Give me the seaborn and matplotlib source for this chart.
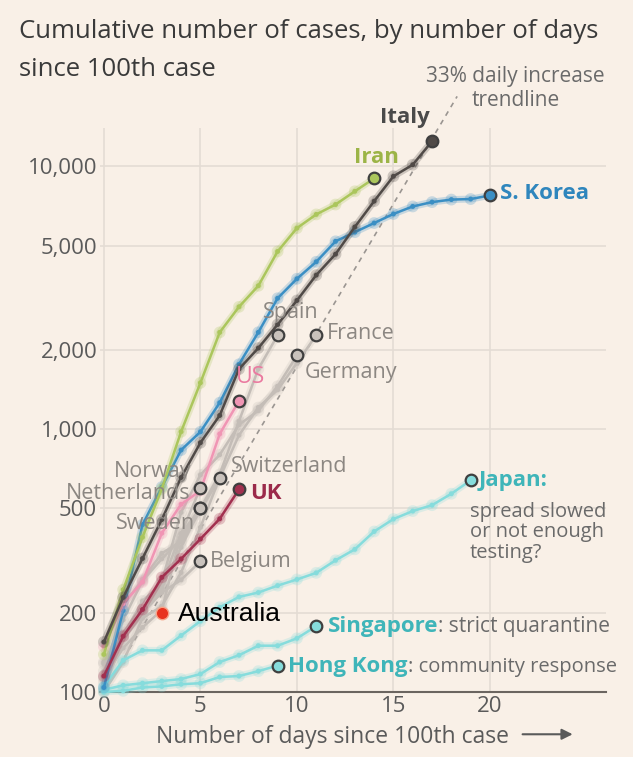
import numpy as np
import pandas as pd
import matplotlib
matplotlib.use('Agg')
import matplotlib.pyplot as plt
import matplotlib.patheffects as pe
import seaborn as sns

# cumulative cases, day 0 = first day with 100+ cases
italy = [155, 229, 322, 453, 655, 888, 1128, 1694, 2036, 2502, 3089, 3858, 4636, 5883, 7375, 9172, 10149, 12462]
iran = [139, 245, 388, 593, 978, 1501, 2336, 2922, 3513, 4747, 5823, 6566, 7161, 8042, 9000]
s_korea = [104, 204, 433, 602, 833, 977, 1261, 1766, 2337, 3150, 3736, 4335, 5186, 5621, 6088, 6593, 7041, 7314, 7478, 7513, 7755]
us = [149, 217, 262, 402, 518, 583, 959, 1281]
uk = [115, 163, 206, 273, 321, 382, 456, 590]
spain = [120, 165, 222, 259, 400, 500, 673, 1073, 1695, 2277]
france = [100, 130, 191, 212, 285, 423, 653, 949, 1209, 1412, 1784, 2281]
germany = [130, 159, 196, 262, 482, 670, 799, 1040, 1176, 1457, 1908]
switzerland = [114, 214, 268, 337, 374, 491, 652]
norway = [113, 147, 176, 205, 400, 598]
netherlands = [128, 188, 265, 321, 382, 503]
sweden = [101, 161, 203, 248, 355, 500]
belgium = [109, 169, 200, 239, 267, 314]
japan = [105, 132, 144, 144, 164, 186, 210, 230, 239, 254, 268, 284, 317, 349, 408, 455, 488, 514, 568, 639]
singapore = [102, 106, 108, 110, 112, 117, 130, 138, 150, 150, 160, 178]
hong_kong = [100, 101, 104, 105, 107, 108, 114, 115, 120, 126]
australia_day, australia_cases = 3, 200

trend_rate = 0.33
trend_days = [0, 18.3]

y_ticks = [100, 200, 500, 1000, 2000, 5000, 10000]
y_labels = ['100', '200', '500', '1,000', '2,000', '5,000', '10,000']
x_ticks = [0, 5, 10, 15, 20]

series = {
    'Spain': spain, 'France': france, 'Germany': germany, 'Switzerland': switzerland,
    'Norway': norway, 'Netherlands': netherlands, 'Sweden': sweden, 'Belgium': belgium,
    'Japan': japan, 'Singapore': singapore, 'Hong Kong': hong_kong,
    'S. Korea': s_korea, 'US': us, 'UK': uk, 'Iran': iran, 'Italy': italy,
}

GREY = '#c4bdb7'
TEAL = '#86dcdc'
colors = {
    'Spain': GREY, 'France': GREY, 'Germany': GREY, 'Switzerland': GREY,
    'Norway': GREY, 'Netherlands': GREY, 'Sweden': GREY, 'Belgium': GREY,
    'Japan': TEAL, 'Singapore': TEAL, 'Hong Kong': TEAL,
    'S. Korea': '#3b8fc4', 'US': '#f095b4', 'UK': '#a2304f',
    'Iran': '#abc65c', 'Italy': '#504a47',
}

rows = []
for name, vals in series.items():
    for d, v in enumerate(vals):
        rows.append({'country': name, 'day': d, 'cases': v})
df = pd.DataFrame(rows)

BG = '#f9f0e7'
sns.set_theme(style='white')
plt.rcParams['font.family'] = ['Open Sans', 'DejaVu Sans']

fig = plt.figure(figsize=(6.33, 7.57), dpi=100, facecolor=BG)
ax = fig.add_axes([0.158, 0.0859, 0.799, 0.745])
ax.set_facecolor(BG)

# trendline
td = np.array(trend_days)
ax.plot(td, 100 * (1 + trend_rate) ** td, ls=(0, (3, 3)), color='#9a9591', lw=1.2, clip_on=False, zorder=2)

sns.lineplot(data=df, x='day', y='cases', hue='country', hue_order=list(series.keys()),
             palette=colors, marker='o', markersize=3.5, markeredgewidth=0, lw=1.8,
             legend=False, ax=ax, zorder=3)
for line in ax.lines[1:]:
    c = line.get_color()
    line.set_path_effects([pe.Stroke(linewidth=5, foreground=c, alpha=0.25), pe.Normal()])
    line.set_clip_on(False)

# end-point circles
for name, vals in series.items():
    c = colors[name]
    face = '#c9c2bc' if c == GREY else c
    ax.scatter([len(vals) - 1], [vals[-1]], s=70, facecolor=face, edgecolor='#3f3f3f',
               linewidth=1.6, zorder=5, clip_on=False)

ax.scatter([australia_day], [australia_cases], s=80, color='#e8331f', zorder=6, edgecolor='#f6a48a', linewidth=1)

ax.set_yscale('log')
ax.set_ylim(100, 14000)
ax.set_xlim(-0.2, 26)
ax.set_yticks(y_ticks)
ax.set_yticklabels(y_labels)
ax.minorticks_off()
ax.set_xticks(x_ticks)
ax.tick_params(axis='y', length=0, pad=2, labelsize=16, labelcolor='#5a5a5a')
ax.tick_params(axis='x', length=0, pad=3, labelsize=16, labelcolor='#5a5a5a')
ax.grid(True, color='#e4dcd4', lw=1.2)
for s in ['top', 'right', 'left']:
    ax.spines[s].set_visible(False)
ax.spines['bottom'].set_color('#6b6560')
ax.spines['bottom'].set_linewidth(1.5)
ax.set_xlabel('Number of days since 100th case', fontsize=16.5, color='#5a5a5a')
ax.xaxis.set_label_coords(0.46, -0.058)
ax.set_ylabel('')
ax.annotate('', xy=(0.94, -0.075), xytext=(0.83, -0.075), xycoords='axes fraction',
            arrowprops=dict(arrowstyle='-|>', color='#5a5a5a', lw=1.5, mutation_scale=16))

# title
fig.text(0.03, 0.958, 'Cumulative number of cases, by number of days', fontsize=18.5, color='#3a3a3a', va='center')
fig.text(0.03, 0.908, 'since 100th case', fontsize=18.5, color='#3a3a3a', va='center')
fig.text(0.955, 0.899, '33% daily increase', fontsize=15, color='#6a6a6a', ha='right', va='center')
fig.text(0.815, 0.867, 'trendline', fontsize=15, color='#6a6a6a', ha='center', va='center')

# labels
def lab(x, y, s, color, ha='left', bold=False, size=15.5):
    return ax.text(x, y, s, color=color, ha=ha, va='center', fontsize=size,
                   fontweight='bold' if bold else 'normal', clip_on=False, zorder=7)

GT = '#8c8782'
lab(15.6, 15300, 'Italy', '#4a4a4a', ha='center', bold=True, size=16)
lab(14.1, 10800, 'Iran', '#9cb447', ha='center', bold=True, size=16)
lab(20.5, 7870, 'S. Korea', '#2f86bd', bold=True, size=16)
lab(9.7, 2770, 'Spain', GT, ha='center')
lab(11.55, 2320, 'France', GT)
lab(10.4, 1640, 'Germany', GT)
lab(7.6, 1585, 'US', '#ea7aa0', ha='center', size=16.5)
lab(6.6, 720, 'Switzerland', GT)
lab(4.55, 690, 'Norway', GT, ha='right')
lab(4.5, 567, 'Netherlands', GT, ha='right')
lab(4.7, 439, 'Sweden', GT, ha='right')
lab(7.6, 567, 'UK', '#9b2a4a', bold=True, size=16)
lab(5.5, 313, 'Belgium', GT)
ax.text(3.85, 198, 'Australia', color='black', fontsize=19, va='center', family='Liberation Sans', zorder=7)

TT = '#3fb5b9'
lab(19.4, 640, 'Japan:', TT, bold=True, size=16)
ax.text(18.95, 530, 'spread slowed\nor not enough\ntesting?', color='#6a6a6a', fontsize=14.5,
        va='top', linespacing=1.05)
t = lab(11.6, 178, 'Singapore', TT, bold=True, size=16)
ax.annotate(': strict quarantine', xy=(1, 0.5), xycoords=t, va='center', ha='left',
            fontsize=15, color='#6a6a6a')
t = lab(9.55, 125, 'Hong Kong', TT, bold=True, size=16)
ax.annotate(': community response', xy=(1, 0.5), xycoords=t, va='center', ha='left',
            fontsize=14.5, color='#6a6a6a')

fig.savefig('out.png', dpi=100, facecolor=BG)
